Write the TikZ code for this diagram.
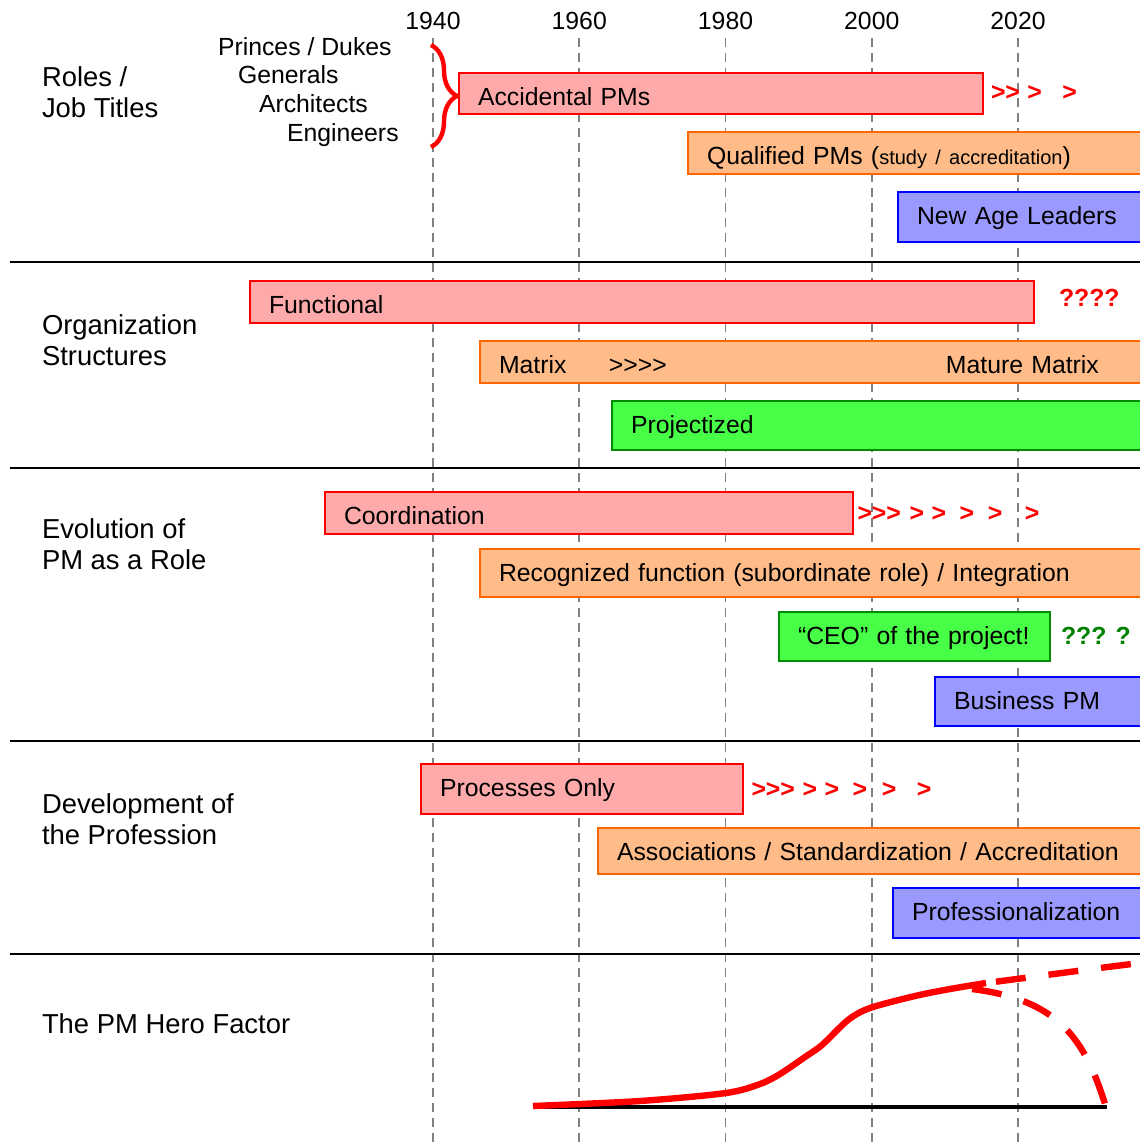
\documentclass[tikz,border=0pt]{standalone}
\usepackage{fontspec}
\setmainfont{Liberation Sans}
\usetikzlibrary{decorations.pathreplacing}
\tikzset{every picture/.style={line width=1pt}}
\definecolor{bar-pink}{RGB}{255,170,170}
\definecolor{bar-orange}{RGB}{255,187,136}
\definecolor{bar-green}{RGB}{72,255,72}
\definecolor{bar-blue}{RGB}{153,153,255}
\definecolor{edge-orange}{RGB}{255,102,0}
\definecolor{edge-green}{RGB}{0,140,0}
\definecolor{hint-green}{RGB}{0,128,0}
\definecolor{grid-gray}{RGB}{128,128,128}
\newcommand{\fwd}{\kern0pt>\kern0pt}

\begin{document}
\begin{tikzpicture}
    [x=0.5pt, y=-0.5pt,
    font=\fontsize{12.4}{15.5}\selectfont,
    barbox/.style = {rectangle, draw, anchor=north west, align=left,
            inner xsep=9.5pt, inner ysep=0pt, text height=16.25pt},
    pinkbar/.style = {barbox, draw=red, fill=bar-pink},
    orangebar/.style = {barbox, draw=edge-orange, fill=bar-orange},
    greenbar/.style = {barbox, draw=edge-green, fill=bar-green},
    bluebar/.style = {barbox, draw=blue, fill=bar-blue},
    lbl/.style = {inner sep=0pt, anchor=base west},
    rowtitle/.style = {inner sep=0pt, anchor=north west, align=left,
            font=\fontsize{13.7}{15.5}\selectfont},
    trend/.style = {lbl, text=red, font=\fontsize{12.4}{15.5}\selectfont\bfseries},
    gridline/.style = {draw=grid-gray, line width=0.9pt, dash pattern=on 4.5pt off 3pt},
    herocurve/.style = {draw=red, line width=3.2pt},
    ]
    \useasboundingbox (0,0) rectangle (1140,1146);

    % years
    \foreach \yr in {1940,1960,1980,2000,2020} {
        \node[inner sep=0pt, anchor=base] (year\yr) at ({433+(\yr-1940)*7.3125},29) {\yr};
        \coordinate (foot\yr) at ({433+(\yr-1940)*7.3125},1146);
        \draw[gridline, shorten <=4pt] (year\yr.south) -- (foot\yr);
    }
    \foreach \sy in {262,468,741,954}
        \draw (10,\sy) -- (1140,\sy);

    % roles / job titles
    \node[rowtitle] (roles) at (41,66) {Roles /\\Job Titles};
    \node[lbl] (princes) at (217,55) {Princes / Dukes};
    \node[lbl] (generals) at (237,83) {Generals};
    \node[lbl] (architects) at (258,112) {Architects};
    \node[lbl] (engineers) at (286,141) {Engineers};
    \coordinate (brace-top) at (431,45);
    \coordinate (brace-bot) at (431,147);
    \draw[red, line width=2.2pt, decorate, decoration={brace, amplitude=13pt}] (brace-top) -- (brace-bot);

    \node[pinkbar, text width=243pt, text depth=4.25pt] (acc) at (458,72) {Accidental PMs};
    \node[trend] (acc-trend) at (990,100) {\fwd\fwd\hspace{3.75pt}\fwd\hspace{10.25pt}\fwd};
    \node[orangebar, text width=208.5pt, text depth=4.75pt] (qual) at (687,131)
        {Qualified PMs ({\fontsize{10}{12}\selectfont study / accreditation})};
    \node[bluebar, text width=103.5pt, text depth=8.75pt] (newage) at (897,191) {New Age Leaders};

    % organization structures
    \node[rowtitle] (orgs) at (41,314) {Organization\\Structures};
    \node[pinkbar, text width=373pt, text depth=4.75pt] (func) at (249,280) {Functional};
    \node[trend] (func-trend) at (1058,306) {????};
    \node[orangebar, text width=312.5pt, text depth=4.75pt] (matrix) at (479,340)
        {Matrix\hspace{21.25pt}\fwd\fwd\fwd\fwd\hspace{139.5pt}Mature Matrix};
    \node[greenbar, text width=246.5pt, text depth=8.25pt] (proj) at (611,400) {Projectized};

    % evolution of the role
    \node[rowtitle] (evol) at (41,518) {Evolution of\\PM as a Role};
    \node[pinkbar, text width=245pt, text depth=4.75pt] (coord) at (324,491) {Coordination};
    \node[trend] (coord-trend) at (856.5,521)
        {\fwd\fwd\fwd\hspace{4.3pt}\fwd\hspace{3.8pt}\fwd\hspace{6.8pt}\fwd\hspace{6.8pt}\fwd\hspace{11.3pt}\fwd};
    \node[orangebar, text width=312.5pt, text depth=7.75pt] (recog) at (479,548)
        {Recognized function (subordinate role) / Integration};
    \node[greenbar, text width=116.5pt, text depth=8.25pt] (ceo) at (778,611) {“CEO” of the project!};
    \node[trend, text=hint-green] (ceo-trend) at (1060,644) {??? ?};
    \node[bluebar, text width=85pt, text depth=8.25pt] (bpm) at (934,676) {Business PM};

    % development of the profession
    \node[rowtitle] (devel) at (41,793) {Development of\\the Profession};
    \node[pinkbar, text width=142pt, text depth=8.75pt] (proc) at (420,763) {Processes Only};
    \node[trend] (proc-trend) at (750.5,797)
        {\fwd\fwd\fwd\hspace{3.8pt}\fwd\hspace{3.8pt}\fwd\hspace{6.8pt}\fwd\hspace{7.3pt}\fwd\hspace{10.3pt}\fwd};
    \node[orangebar, text width=253.5pt, text depth=6.75pt] (assoc) at (597,827)
        {Associations / Standardization / Accreditation};
    \node[bluebar, text width=106pt, text depth=8.75pt] (prof) at (892,887) {Professionalization};

    % hero factor
    \node[lbl, font=\fontsize{13.7}{15.5}\selectfont] (hero) at (41,1033) {The PM Hero Factor};
    \coordinate (hero-start) at (533,1107);
    \coordinate (hero-end) at (1107,1107);
    \draw[line width=1.6pt] (hero-start) -- (hero-end);
    \draw[herocurve] plot[smooth, tension=0.5] coordinates {(533,1106) (640,1101) (726,1093) (760,1084)
        (780,1074) (805,1057) (822,1045) (848,1020) (870,1008) (915,996) (950,989) (986,983)};
    \draw[herocurve, dash pattern=on 15pt off 11.5pt, dash phase=21.5pt]
        (986,983) .. controls (1040,976) and (1090,969) .. (1140,963);
    \draw[herocurve, dash pattern=on 15pt off 11.5pt]
        (972,989) .. controls (1060,1000) and (1085,1040) .. (1106,1107);
\end{tikzpicture}
\end{document}
